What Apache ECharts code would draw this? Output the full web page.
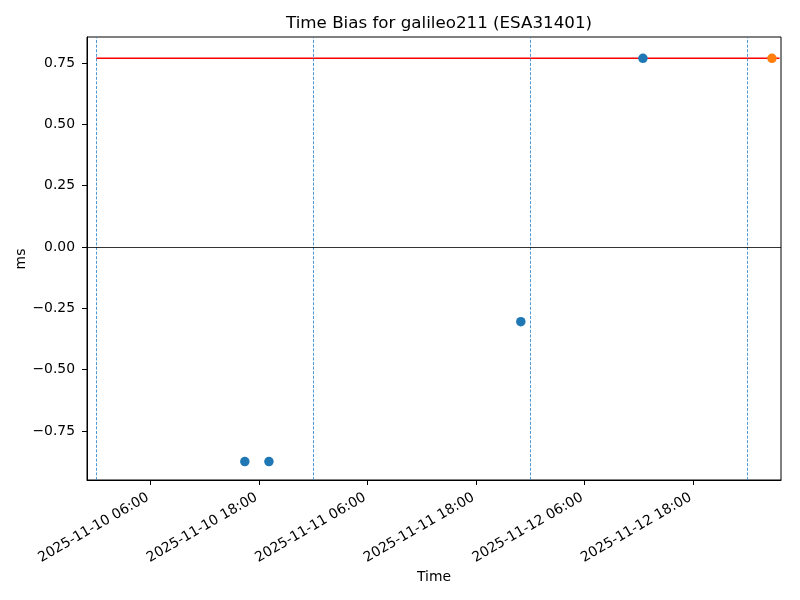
<!DOCTYPE html>
<html>
<head>
<meta charset="utf-8">
<script src="https://cdn.jsdelivr.net/npm/echarts@6/dist/echarts.min.js"></script>
<style>html,body{margin:0;padding:0;background:#fff}#c{width:800px;height:600px}</style>
</head>
<body>
<div id="c"></div>
<script>
// ---- data ----
const blueTimes = ["2025-11-10 16:26", "2025-11-10 19:06", "2025-11-11 22:57", "2025-11-12 12:27"];
const blueValues = [-0.875, -0.875, -0.3045, 0.769];
const orangeTimes = ["2025-11-13 02:43"];
const orangeValues = [0.769];
const refTimes = ["2025-11-10 00:00", "2025-11-13 03:33"];
const refValues = [0.769, 0.769];
const dayLines = ["2025-11-10 00:00", "2025-11-11 00:00", "2025-11-12 00:00", "2025-11-13 00:00"];
const xTickLabels = ["2025-11-10 06:00", "2025-11-10 18:00", "2025-11-11 06:00", "2025-11-11 18:00", "2025-11-12 06:00", "2025-11-12 18:00"];
const yTicks = [-0.75, -0.5, -0.25, 0, 0.25, 0.5, 0.75];

const toMs = s => Date.parse(s.replace(' ', 'T') + ':00Z');
const pad = n => String(n).padStart(2, '0');
const fmt = v => { const d = new Date(v); return d.getUTCFullYear() + '-' + pad(d.getUTCMonth() + 1) + '-' + pad(d.getUTCDate()) + ' ' + pad(d.getUTCHours()) + ':' + pad(d.getUTCMinutes()); };
const pairs = (ts, vs) => ts.map((t, i) => [toMs(t), vs[i]]);

const xMin = toMs("2025-11-09 22:59");
const xMax = toMs("2025-11-13 03:43");
const FONT = 'DejaVu Sans';

const chart = echarts.init(document.getElementById('c'), null, {renderer: 'canvas'});
chart.setOption({
  animation: false,
  backgroundColor: '#fff',
  title: {
    text: 'Time Bias for galileo211 (ESA31401)',
    left: 434, top: 10, textAlign: 'center',
    textStyle: {fontFamily: FONT, fontSize: 16.7, fontWeight: 'normal', color: '#000'}
  },
  grid: {left: 87, right: 19, top: 37, bottom: 120, show: true, borderColor: '#000', borderWidth: 1, backgroundColor: 'transparent'},
  xAxis: {
    type: 'value', min: xMin, max: xMax,
    splitLine: {show: false},
    axisLine: {show: true, onZero: false, lineStyle: {color: '#000', width: 1}},
    axisTick: {show: true, length: 5, lineStyle: {color: '#000'}, customValues: xTickLabels.map(toMs)},
    axisLabel: {
      customValues: xTickLabels.map(toMs), rotate: 30, margin: 15,
      padding: [0, 3, 0, 0],
      formatter: v => fmt(v),
      fontFamily: FONT, fontSize: 13.9, color: '#000'
    }
  },
  yAxis: {
    type: 'value', min: -0.950, max: 0.856,
    splitLine: {show: false},
    axisLine: {show: true, onZero: false, lineStyle: {color: '#000', width: 1}},
    axisTick: {show: true, length: 5, lineStyle: {color: '#000'}, customValues: yTicks},
    axisLabel: {
      customValues: yTicks, margin: 12,
      formatter: v => (v < 0 ? '\u2212' : '') + Math.abs(v).toFixed(2),
      fontFamily: FONT, fontSize: 13.9, color: '#000'
    }
  },
  graphic: [
    {type: 'text', x: 434, y: 577, style: {text: 'Time', font: '13.9px "DejaVu Sans"', fill: '#000', textAlign: 'center', textVerticalAlign: 'middle'}},
    {type: 'text', x: 21, y: 259, rotation: Math.PI / 2, style: {text: 'ms', font: '13.9px "DejaVu Sans"', fill: '#000', textAlign: 'center', textVerticalAlign: 'middle'}}
  ],
  series: [
    {
      type: 'line', data: [], silent: true,
      markLine: {
        silent: true, symbol: 'none', label: {show: false}, animation: false,
        lineStyle: {color: '#2f86cc', width: 1, type: [3, 1.6], opacity: 0.85},
        data: dayLines.map(t => ({xAxis: toMs(t)}))
      }
    },
    {
      type: 'line', data: [], silent: true,
      markLine: {
        silent: true, symbol: 'none', label: {show: false}, animation: false,
        lineStyle: {color: '#000', width: 0.8, type: 'solid'},
        data: [{yAxis: 0}]
      }
    },
    {
      type: 'line', data: pairs(refTimes, refValues), showSymbol: false, clip: true,
      lineStyle: {color: '#ff0000', width: 1.5}, z: 3
    },
    {
      type: 'scatter', data: pairs(blueTimes, blueValues), symbol: 'circle', symbolSize: 9.5,
      itemStyle: {color: '#1f77b4', opacity: 1}, z: 5
    },
    {
      type: 'scatter', data: pairs(orangeTimes, orangeValues), symbol: 'circle', symbolSize: 9.5,
      itemStyle: {color: '#ff7f0e', opacity: 1}, z: 5
    }
  ]
});
</script>
</body>
</html>
